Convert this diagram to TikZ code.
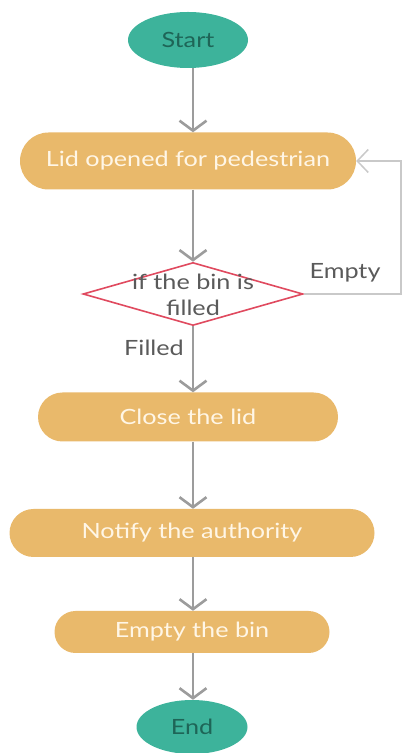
\documentclass[tikz,border=0pt]{standalone}
\usepackage{fontspec}
\setmainfont{Lato}[FakeStretch=1.2]
\usepackage{tikz}
\usetikzlibrary{shapes.geometric}
\usetikzlibrary{shapes.misc}
\usetikzlibrary{arrows.meta}
\definecolor{startteal}{HTML}{3DB39B}
\definecolor{tealtext}{HTML}{1E6557}
\definecolor{boxorange}{HTML}{E9B96B}
\definecolor{boxtext}{HTML}{FFF6E6}
\definecolor{arrowgray}{HTML}{9C9C9C}
\definecolor{loopgray}{HTML}{C9C9C9}
\definecolor{decred}{HTML}{E04A5F}
\definecolor{labelgray}{HTML}{5A5A5A}
\tikzset{terminal/.style={ellipse, fill=startteal, text=tealtext, inner sep=0,
    font=\fontsize{21}{24}\selectfont},
  process/.style={rounded rectangle, fill=boxorange, text=boxtext, inner sep=0,
    font=\fontsize{21}{24}\selectfont},
  decision/.style={diamond, draw=decred, line width=1.6pt, fill=white, inner sep=0,
    minimum width=220, minimum height=63},
  flow/.style={draw=arrowgray, line width=2.6pt, -{Straight Barb[length=10pt,width=27pt]}},
  loopback/.style={draw=loopgray, line width=1.5pt, -{Straight Barb[length=11pt,width=23pt]}},
  edgelabel/.style={text=labelgray, font=\fontsize{21}{24}\selectfont}}

\begin{document}
\begin{tikzpicture}[x=1pt, y=1pt]
\useasboundingbox (0,0) rectangle (406,753);
% nodes
\node[terminal, minimum width=120, minimum height=56] (start) at (188,713) {Start};
\node[process, minimum width=336, minimum height=57] (lid) at (188,592) {Lid opened for pedestrian};
\node[decision] (check) at (193,459) {};
\node[text=labelgray, align=center, font=\fontsize{21}{26}\selectfont] (checktext) at (193,458) {if the bin is\\filled};
\node[process, minimum width=300, minimum height=49] (close) at (188,336) {Close the lid};
\node[process, minimum width=365, minimum height=48] (notify) at (192,220) {Notify the authority};
\node[process, minimum width=275, minimum height=42] (emptybin) at (192,121) {Empty the bin};
\node[terminal, minimum width=111, minimum height=54] (finish) at (192,26) {End};
% connectors
\draw[flow] (start.south -| check.center) -- (lid.north -| check.center);
\draw[flow] (lid.south -| check.center) -- (check.north);
\draw[flow] (check.south) -- (close.north -| check.center);
\draw[flow] (close.south -| check.center) -- (notify.north -| check.center);
\draw[flow] (notify.south -| check.center) -- (emptybin.north -| check.center);
\draw[flow] (emptybin.south -| check.center) -- (finish.north -| check.center);
\draw[loopback] (check.east) -- ++(97,0) |- (lid.east);
% labels
\node[edgelabel] (emptylabel) at (345,480) {Empty};
\node[edgelabel] (filledlabel) at (154,405) {Filled};
\end{tikzpicture}
\end{document}
